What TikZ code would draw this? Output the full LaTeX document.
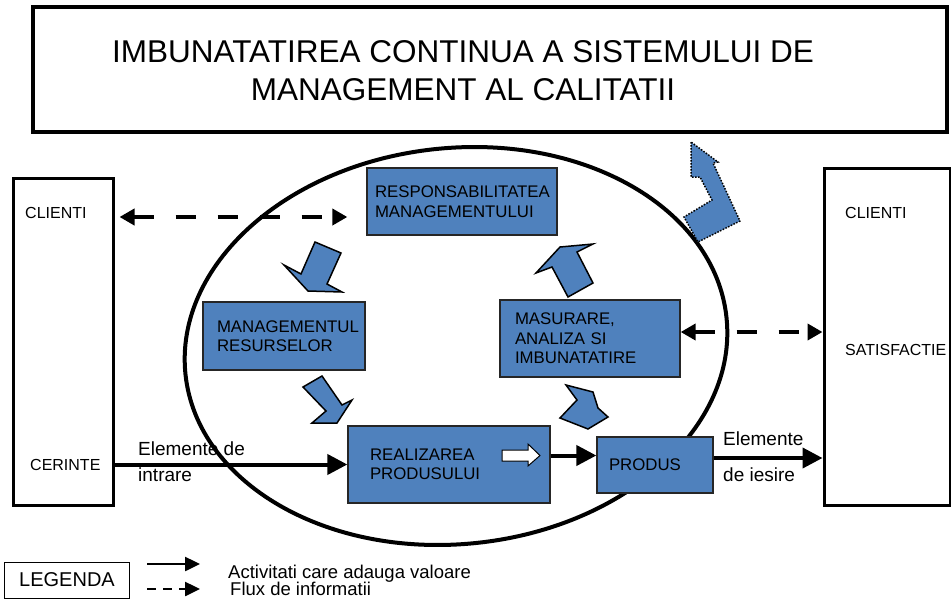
\documentclass[tikz,border=0pt]{standalone}
\usepackage{fontspec}
\setmainfont{Liberation Sans}
\usetikzlibrary{arrows.meta}

\definecolor{procblue}{RGB}{79,129,189}

\begin{document}
\begin{tikzpicture}[x=1pt,y=-1pt,
	box/.style={draw=black!85,line width=1.3pt,fill=procblue,align=left,inner xsep=0pt,font=\fontsize{16.8}{19.5}\selectfont},
	frame/.style={draw,line width=3.5pt},
	lbl/.style={inner sep=0pt,font=\fontsize{16}{19}\selectfont},
	txt/.style={inner sep=0pt,anchor=base west,font=\fontsize{19}{19}\selectfont},
	activ/.style={line width=4pt,-{Triangle[length=20pt,width=20pt]}},
	info/.style={line width=4pt,dash pattern=on 20pt off 22pt,{Triangle[length=15pt,width=16pt]}-{Triangle[length=15pt,width=16pt]}},
	bloc/.style={draw,line width=1.5pt,fill=procblue,line join=miter}]
	\useasboundingbox (0,0) rectangle (951,598);

	% titlu
	\node[frame,minimum width=914pt,minimum height=125pt] (titlu) at (490,69.5) {};
	\node[align=center,font=\fontsize{31.5}{38}\selectfont] (titlutext) at (463,71)
		{IMBUNATATIREA CONTINUA A SISTEMULUI DE\\MANAGEMENT AL CALITATII};

	\draw[line width=4pt,rotate around={6:(456,346)}] (456,346) ellipse [x radius=272, y radius=198];

	% clienti
	\node[frame,line width=3pt,minimum width=100pt,minimum height=327pt] (clientiIn) at (63,341.5) {};
	\node[frame,line width=3pt,minimum width=126pt,minimum height=337pt] (clientiOut) at (887,336.5) {};
	\node[lbl,anchor=west] (cl1) at (25,213) {CLIENTI};
	\node[lbl,anchor=west] (cerinte) at (30,465) {CERINTE};
	\node[lbl,anchor=west] (cl2) at (845,213) {CLIENTI};
	\node[lbl,anchor=west] (satisf) at (845,350) {SATISFACTIE};

	% procese
	\node[box,minimum width=190pt,minimum height=67pt,text width=174pt] (resp) at (462,201.5) {RESPONSABILITATEA\\MANAGEMENTULUI};
	\node[box,minimum width=162pt,minimum height=68pt,text width=134pt] (resurse) at (284,336) {MANAGEMENTUL\\RESURSELOR};
	\node[box,minimum width=180pt,minimum height=77pt,text width=150pt] (masurare) at (590,338.5) {MASURARE,\\ANALIZA SI\\IMBUNATATIRE};
	\node[box,minimum width=202pt,minimum height=77pt,text width=158pt] (realizare) at (449,464.5) {REALIZAREA\\PRODUSULUI};
	\node[box,minimum width=116pt,minimum height=56pt,text width=92pt] (produs) at (655,465) {PRODUS};

	% fluxuri
	\draw[activ] (clientiIn.east |- realizare.west) -- (realizare.west);
	\draw[activ] ([yshift=9pt]realizare.east) -- ([yshift=9pt]realizare.east -| produs.west);
	\draw[activ] ([yshift=7pt]produs.east) -- ([yshift=7pt]produs.east -| clientiOut.west);
	\draw[info] ([xshift=5pt]clientiIn.east |- 0,217) -- ([xshift=-19pt]resp.west |- 0,217);
	\draw[info] (masurare.east |- 0,332) -- (clientiOut.west |- 0,332);

	\node[txt] (intrare1) at (138,455) {Elemente de};
	\node[txt] (intrare2) at (138,481) {intrare};
	\node[txt] (iesire1) at (723,445) {Elemente};
	\node[txt] (iesire2) at (723,481) {de iesire};

	% sageti bloc
	\draw[bloc] (315,242) -- (341,253) -- (327,284) -- (342,292) -- (308,291) -- (284,265) -- (301,274) -- cycle;
	\draw[bloc] (536,273) -- (560,247) -- (593,244) -- (577,252) -- (593,283) -- (568,297) -- (552,267) -- cycle;
	\draw[bloc] (303,387) -- (322,376) -- (342,405) -- (352,400) -- (337,423) -- (312,423) -- (326,411) -- cycle;
	\draw[bloc] (566,385) -- (593,392) -- (598,408) -- (608,417) -- (588,429) -- (560,418) -- (577,400) -- cycle;
	\draw[bloc,dash pattern=on 1.5pt off 1.5pt] (691,142) -- (691,177) -- (700,177) -- (712,200) -- (684,217)
		-- (698,242) -- (740,221) -- (713,163) -- (718,162) -- cycle;
	\draw[line width=1pt,fill=white] (502,450) -- (528,450) -- (528,444) -- (540,455.5) -- (528,466) -- (528,461) -- (502,461) -- cycle;

	% legenda
	\node[draw,line width=1pt,minimum width=125pt,minimum height=36pt,font=\fontsize{20}{24}\selectfont] (legenda) at (67,580) {LEGENDA};
	\coordinate (la) at (147,564);
	\coordinate (lb) at (200,564);
	\coordinate (lc) at (147,589);
	\coordinate (ld) at (200,589);
	\draw[line width=2.5pt,-{Triangle[length=15pt,width=14pt]}] (la) -- (lb);
	\draw[line width=2.5pt,dash pattern=on 9pt off 7pt,-{Triangle[length=15pt,width=14pt]}] (lc) -- (ld);
	\node[txt,font=\fontsize{18.5}{19}\selectfont] (leg1) at (228,578) {Activitati care adauga valoare};
	\node[txt,font=\fontsize{18.5}{19}\selectfont] (leg2) at (230,595) {Flux de informatii};
\end{tikzpicture}
\end{document}
